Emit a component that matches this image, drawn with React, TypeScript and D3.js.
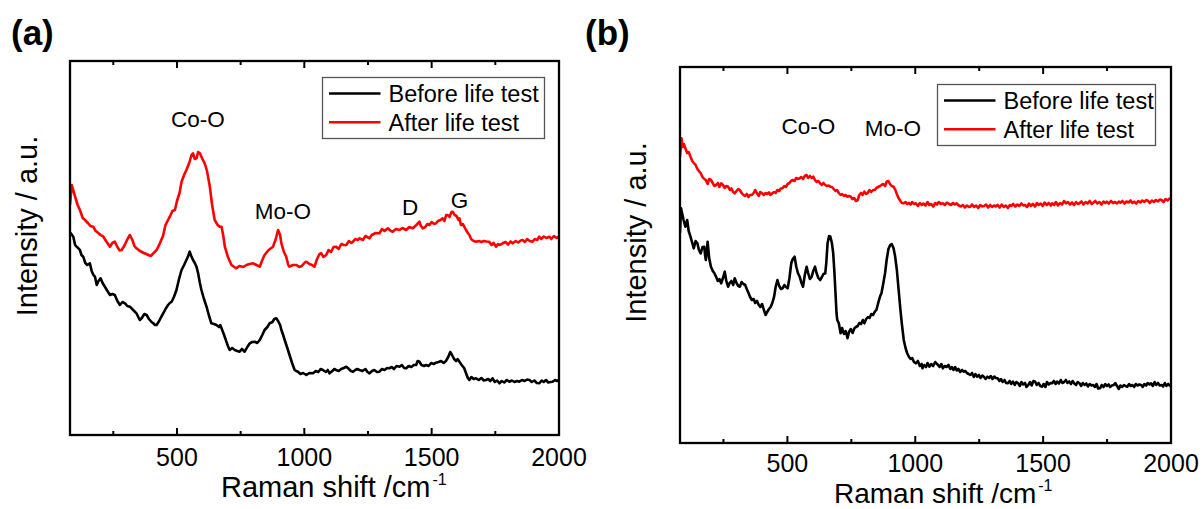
import React from "react";
import * as d3 from "d3";

type Pt = [number, number];

// Raman shift (cm^-1) vs intensity (a.u.)
const majorTicks = [500, 1000, 1500, 2000];
const minorTicks = [250, 750, 1250, 1750];
const seriesNames = ["Before life test", "After life test"];
const seriesColors = ["#000000", "#ff0000"];

// Panel (a)
const afterA: Pt[] = [[80,2300],[87,2500],[100,2383],[110,2300],[119,2250],[130,2170],[139,2150],[150,2120],[160,2090],[171,2083],[181,2040],[191,2020],[200,2000],[211,1983],[224,1930],[237,1883],[246,1920],[256,1933],[266,1880],[275,1845],[283,1850],[295,1900],[306,1960],[315,2000],[325,1950],[333,1890],[341,1867],[355,1840],[370,1820],[380,1810],[387,1800],[398,1790],[407,1817],[420,1850],[433,1917],[445,1990],[455,2100],[465,2150],[472,2183],[482,2240],[492,2250],[500,2340],[510,2420],[518,2533],[528,2600],[537,2650],[548,2720],[557,2800],[563,2817],[570,2760],[577,2767],[583,2830],[590,2817],[600,2760],[609,2717],[618,2640],[629,2483],[638,2300],[648,2150],[660,2100],[668,2083],[675,2083],[682,1990],[688,1883],[700,1780],[714,1700],[725,1680],[733,1667],[745,1690],[760,1680],[773,1700],[785,1710],[799,1717],[812,1700],[825,1683],[835,1750],[844,1800],[860,1850],[877,1883],[888,1960],[897,2050],[905,2000],[910,1917],[920,1830],[929,1783],[937,1700],[942,1683],[955,1700],[969,1700],[980,1680],[990,1690],[1000,1720],[1008,1733],[1020,1710],[1030,1700],[1040,1683],[1050,1760],[1060,1810],[1067,1817],[1075,1780],[1086,1800],[1095,1850],[1105,1830],[1115,1880],[1125,1883],[1135,1860],[1145,1910],[1155,1900],[1165,1900],[1175,1940],[1185,1920],[1191,1933],[1200,1960],[1210,1950],[1217,1967],[1230,1950],[1240,1990],[1256,1967],[1265,2000],[1280,2020],[1295,2017],[1305,2060],[1315,2040],[1328,2067],[1340,2040],[1347,2033],[1360,2060],[1374,2050],[1385,2070],[1400,2050],[1412,2080],[1426,2067],[1440,2100],[1452,2133],[1458,2090],[1465,2067],[1475,2080],[1483,2110],[1491,2100],[1500,2130],[1510,2110],[1517,2117],[1525,2140],[1535,2150],[1543,2167],[1550,2140],[1557,2200],[1563,2200],[1570,2180],[1578,2230],[1583,2233],[1590,2200],[1598,2190],[1605,2150],[1609,2167],[1615,2100],[1622,2110],[1628,2083],[1635,2050],[1642,2020],[1648,2000],[1655,1960],[1665,1940],[1674,1933],[1685,1940],[1695,1930],[1705,1940],[1715,1935],[1726,1933],[1735,1900],[1743,1920],[1753,1883],[1760,1910],[1768,1900],[1779,1917],[1790,1930],[1800,1905],[1810,1935],[1818,1917],[1830,1940],[1840,1925],[1850,1945],[1857,1950],[1866,1930],[1875,1960],[1885,1940],[1896,1933],[1905,1960],[1915,1950],[1922,1983],[1930,1960],[1940,1985],[1950,1970],[1962,1983],[1970,1960],[1980,1990],[1990,1970],[2000,1983]];

const beforeA: Pt[] = [[80,2000],[83,2017],[88,2000],[93,1983],[100,1900],[106,1883],[112,1870],[119,1850],[125,1800],[132,1783],[140,1720],[148,1700],[158,1717],[165,1640],[172,1600],[178,1583],[185,1500],[192,1540],[200,1567],[208,1520],[217,1483],[227,1440],[237,1400],[247,1410],[256,1400],[266,1340],[276,1300],[286,1330],[296,1317],[305,1290],[315,1283],[328,1250],[341,1217],[348,1180],[354,1150],[362,1170],[372,1210],[381,1200],[390,1160],[400,1130],[407,1117],[414,1100],[420,1100],[430,1140],[438,1180],[446,1217],[455,1260],[465,1300],[472,1320],[479,1333],[488,1380],[498,1450],[508,1560],[518,1650],[528,1700],[537,1750],[544,1790],[550,1833],[556,1790],[563,1750],[570,1720],[577,1680],[583,1617],[590,1520],[596,1450],[606,1360],[616,1283],[625,1200],[635,1117],[645,1110],[655,1100],[665,1080],[670,1100],[675,1067],[685,1000],[694,933],[700,890],[707,850],[717,870],[727,850],[737,840],[746,833],[755,860],[766,833],[776,880],[786,917],[795,930],[805,933],[815,920],[825,950],[835,1000],[844,1050],[855,1080],[864,1117],[875,1130],[882,1160],[890,1167],[897,1140],[905,1100],[910,1050],[917,1000],[923,950],[932,880],[942,800],[952,720],[962,650],[968,640],[975,633],[985,610],[995,620],[1008,600],[1020,620],[1034,617],[1045,640],[1055,630],[1064,660],[1073,650],[1085,630],[1092,650],[1099,617],[1110,640],[1118,660],[1125,650],[1135,640],[1145,660],[1155,670],[1165,683],[1175,660],[1183,640],[1191,633],[1200,650],[1208,660],[1217,650],[1228,640],[1240,660],[1248,630],[1256,617],[1266,640],[1275,650],[1285,630],[1295,633],[1305,660],[1315,650],[1325,670],[1334,667],[1343,680],[1352,660],[1362,690],[1374,683],[1383,700],[1392,670],[1400,667],[1410,690],[1420,680],[1430,700],[1439,700],[1445,740],[1452,733],[1460,700],[1470,690],[1478,700],[1488,690],[1498,720],[1508,710],[1517,723],[1527,730],[1537,740],[1547,720],[1557,743],[1565,780],[1573,830],[1580,800],[1588,760],[1596,740],[1602,760],[1609,733],[1618,700],[1628,667],[1636,610],[1642,570],[1648,550],[1656,580],[1665,560],[1674,567],[1685,550],[1695,570],[1705,545],[1713,550],[1722,560],[1730,540],[1739,567],[1748,530],[1757,545],[1766,517],[1775,540],[1785,525],[1795,550],[1805,533],[1815,545],[1825,530],[1835,540],[1844,533],[1855,550],[1865,540],[1875,555],[1884,550],[1893,530],[1903,545],[1913,520],[1923,517],[1932,545],[1940,530],[1949,550],[1958,525],[1966,530],[1975,533],[1985,550],[1992,540],[2000,550]];

// Panel (b)
const afterB: Pt[] = [[80,2863],[86,3047],[90,2960],[95,2990],[101,2947],[108,2900],[114,2910],[121,2863],[128,2820],[134,2800],[141,2780],[148,2740],[154,2720],[161,2697],[168,2660],[175,2640],[181,2630],[188,2590],[194,2640],[201,2630],[208,2600],[214,2570],[221,2580],[228,2600],[234,2560],[241,2597],[248,2580],[255,2550],[261,2570],[268,2563],[275,2530],[281,2545],[288,2510],[294,2497],[301,2520],[308,2540],[314,2530],[321,2500],[328,2480],[334,2470],[341,2490],[348,2460],[354,2480],[361,2480],[368,2500],[374,2530],[381,2497],[388,2470],[394,2510],[401,2497],[408,2480],[414,2500],[421,2490],[428,2505],[434,2480],[441,2497],[448,2510],[454,2500],[461,2530],[468,2520],[474,2545],[481,2547],[488,2570],[494,2560],[501,2590],[508,2600],[514,2620],[521,2630],[528,2620],[534,2650],[541,2640],[548,2647],[554,2660],[561,2640],[568,2670],[575,2680],[581,2650],[588,2670],[595,2650],[601,2663],[608,2630],[614,2610],[621,2620],[628,2597],[634,2580],[641,2600],[648,2580],[654,2570],[661,2575],[668,2563],[674,2560],[681,2540],[688,2520],[694,2530],[701,2500],[708,2480],[714,2490],[721,2470],[728,2480],[734,2463],[741,2470],[748,2463],[754,2440],[761,2450],[768,2420],[775,2430],[781,2480],[788,2500],[794,2480],[801,2513],[808,2490],[814,2500],[821,2530],[828,2510],[835,2530],[842,2530],[848,2550],[855,2560],[862,2570],[868,2580],[875,2590],[882,2570],[888,2613],[895,2620],[901,2590],[908,2570],[915,2563],[922,2530],[928,2490],[935,2447],[942,2420],[948,2400],[955,2397],[962,2410],[968,2390],[975,2400],[982,2385],[988,2410],[995,2390],[1002,2397],[1010,2370],[1018,2400],[1025,2380],[1032,2395],[1040,2375],[1048,2410],[1055,2380],[1062,2390],[1070,2365],[1078,2400],[1085,2385],[1092,2410],[1100,2390],[1108,2397],[1116,2380],[1124,2405],[1132,2390],[1140,2380],[1148,2400],[1155,2385],[1162,2397],[1170,2375],[1178,2365],[1186,2380],[1194,2355],[1202,2375],[1210,2360],[1215,2363],[1222,2385],[1230,2360],[1238,2375],[1246,2350],[1254,2380],[1262,2365],[1269,2370],[1277,2385],[1285,2355],[1293,2380],[1300,2360],[1308,2375],[1315,2365],[1322,2380],[1330,2355],[1338,2385],[1346,2360],[1354,2375],[1362,2350],[1370,2380],[1375,2370],[1383,2390],[1391,2365],[1399,2385],[1407,2370],[1415,2395],[1422,2375],[1429,2380],[1437,2360],[1445,2395],[1452,2370],[1460,2390],[1468,2365],[1476,2400],[1482,2380],[1490,2395],[1498,2370],[1506,2405],[1514,2380],[1522,2400],[1530,2375],[1535,2397],[1543,2380],[1550,2410],[1558,2375],[1566,2400],[1574,2385],[1582,2420],[1589,2397],[1597,2410],[1605,2385],[1613,2405],[1621,2380],[1629,2410],[1636,2390],[1642,2397],[1650,2415],[1658,2385],[1666,2410],[1674,2395],[1682,2420],[1690,2390],[1696,2403],[1704,2420],[1712,2395],[1720,2410],[1728,2385],[1736,2415],[1743,2400],[1749,2413],[1757,2395],[1765,2420],[1773,2400],[1781,2410],[1789,2395],[1796,2415],[1802,2403],[1810,2420],[1818,2395],[1826,2415],[1834,2405],[1842,2425],[1849,2400],[1856,2413],[1864,2395],[1872,2420],[1880,2405],[1888,2425],[1896,2410],[1903,2430],[1909,2423],[1917,2400],[1925,2425],[1933,2410],[1941,2430],[1949,2415],[1956,2435],[1963,2430],[1971,2410],[1979,2440],[1987,2425],[1994,2445],[2000,2437]];

const beforeB: Pt[] = [[80,2100],[84,2347],[88,2300],[94,2230],[101,2163],[108,2230],[114,2120],[121,2063],[128,2000],[134,1947],[141,2020],[148,1997],[154,1930],[161,1897],[168,1960],[175,1963],[178,1880],[181,1830],[185,1920],[188,2013],[194,1850],[201,1763],[208,1720],[214,1700],[221,1663],[228,1620],[234,1640],[241,1597],[248,1650],[255,1713],[261,1620],[268,1563],[274,1600],[281,1620],[288,1580],[294,1647],[301,1600],[308,1570],[314,1563],[321,1610],[328,1590],[335,1580],[341,1540],[348,1500],[354,1460],[361,1430],[368,1440],[374,1400],[381,1420],[388,1380],[394,1360],[401,1390],[408,1330],[415,1280],[421,1310],[428,1340],[435,1363],[441,1400],[448,1463],[454,1560],[461,1630],[468,1570],[475,1540],[481,1547],[488,1580],[494,1560],[501,1547],[508,1650],[515,1797],[521,1840],[528,1863],[535,1760],[541,1700],[548,1663],[555,1600],[561,1563],[568,1680],[575,1763],[581,1700],[588,1640],[595,1663],[601,1720],[608,1763],[614,1700],[621,1650],[628,1630],[635,1660],[641,1690],[648,1697],[652,1800],[657,1997],[663,2070],[668,2063],[674,2000],[679,1900],[684,1700],[688,1500],[692,1300],[695,1230],[701,1197],[708,1097],[714,1150],[721,1090],[728,1120],[735,1047],[741,1110],[748,1140],[755,1100],[762,1147],[768,1160],[775,1170],[781,1200],[788,1190],[795,1230],[801,1197],[808,1240],[815,1260],[821,1250],[828,1290],[835,1280],[842,1313],[848,1330],[855,1400],[862,1463],[868,1500],[875,1597],[882,1700],[888,1830],[895,1940],[902,1980],[908,1990],[915,1947],[921,1870],[928,1730],[935,1530],[942,1330],[948,1180],[955,1030],[962,950],[968,900],[975,863],[982,840],[988,850],[995,810],[1002,797],[1010,820],[1018,770],[1025,790],[1028,747],[1035,780],[1042,760],[1048,800],[1055,763],[1062,790],[1070,770],[1078,810],[1085,790],[1089,780],[1095,760],[1102,790],[1108,747],[1115,770],[1122,760],[1130,780],[1137,740],[1143,760],[1149,730],[1156,760],[1162,725],[1169,740],[1176,710],[1183,730],[1189,713],[1196,720],[1202,700],[1209,690],[1215,680],[1222,700],[1229,660],[1235,690],[1242,663],[1249,680],[1255,650],[1262,675],[1269,660],[1275,640],[1282,663],[1289,650],[1295,670],[1302,640],[1309,665],[1315,650],[1322,647],[1329,620],[1335,640],[1342,610],[1349,630],[1355,600],[1362,597],[1369,620],[1375,590],[1382,615],[1389,580],[1395,610],[1402,597],[1409,570],[1415,610],[1422,585],[1429,600],[1435,560],[1442,580],[1449,610],[1455,575],[1462,620],[1469,613],[1475,580],[1482,600],[1489,570],[1496,563],[1502,590],[1509,560],[1515,610],[1522,585],[1529,600],[1535,597],[1542,620],[1549,590],[1555,615],[1562,595],[1569,630],[1575,600],[1582,610],[1589,630],[1595,600],[1602,615],[1609,590],[1615,620],[1622,595],[1629,580],[1635,610],[1642,597],[1649,570],[1655,600],[1662,580],[1669,595],[1675,565],[1682,590],[1689,575],[1696,580],[1702,560],[1709,590],[1715,545],[1723,547],[1729,580],[1736,560],[1743,590],[1749,570],[1756,585],[1762,560],[1769,575],[1776,580],[1782,600],[1789,570],[1796,540],[1802,575],[1809,560],[1816,580],[1822,570],[1829,563],[1836,590],[1842,570],[1849,580],[1856,560],[1862,590],[1869,575],[1876,585],[1883,580],[1889,560],[1896,590],[1903,575],[1909,600],[1916,585],[1922,597],[1929,570],[1936,610],[1942,580],[1949,600],[1956,575],[1963,580],[1969,565],[1976,600],[1982,570],[1989,590],[1995,575],[2000,580]];

// Peak annotations (data coordinates)
const annotationsA = [
  { text: "Co-O", x: 582, y: 3083 },
  { text: "Mo-O", x: 916, y: 2160 },
  { text: "D", x: 1415, y: 2200 },
  { text: "G", x: 1609, y: 2275 },
];
const annotationsB = [
  { text: "Co-O", x: 582, y: 3087 },
  { text: "Mo-O", x: 912, y: 3070 },
];

const FONT = "Arial, 'Liberation Sans', Helvetica, sans-serif";

type PanelCfg = {
  tag: string;
  tagX: number;
  frame: { l: number; t: number; r: number; b: number };
  yMax: number;
  before: Pt[];
  after: Pt[];
  notes: { text: string; x: number; y: number }[];
  legend: { x: number; y: number; w: number; h: number };
  yTitle: { x: number; y: number };
  xTitleX: number;
  xTitleDy: number;
  xTitleSize: number;
  tickDy: number;
};

const panels: PanelCfg[] = [
  {
    tag: "(a)", tagX: 11,
    frame: { l: 70, t: 61, r: 559, b: 435 },
    yMax: 3740, before: beforeA, after: afterA, notes: annotationsA,
    legend: { x: 322.5, y: 77.5, w: 222, h: 61 },
    yTitle: { x: 37, y: 226 },
    xTitleX: 221, xTitleDy: 62, xTitleSize: 29, tickDy: 31,
  },
  {
    tag: "(b)", tagX: 585,
    frame: { l: 680, t: 67, r: 1171, b: 443 },
    yMax: 3760, before: beforeB, after: afterB, notes: annotationsB,
    legend: { x: 937.5, y: 84.5, w: 218, h: 61 },
    yTitle: { x: 646, y: 232.5 },
    xTitleX: 834, xTitleDy: 60, xTitleSize: 28, tickDy: 29,
  },
];

function Panel({ cfg, idx }: { cfg: PanelCfg; idx: number }) {
  const { frame } = cfg;
  const x = d3.scaleLinear().domain([80, 2000]).range([frame.l, frame.r]);
  const y = d3.scaleLinear().domain([0, cfg.yMax]).range([frame.b, frame.t]);
  const line = d3
    .line<Pt>()
    .x((d) => x(d[0]))
    .y((d) => y(d[1]));
  const clipId = `clip-${idx}`;
  const series = [cfg.before, cfg.after];
  return (
    <g>
      <defs>
        <clipPath id={clipId}>
          <rect x={frame.l} y={frame.t} width={frame.r - frame.l} height={frame.b - frame.t} />
        </clipPath>
      </defs>
      <text x={cfg.tagX} y={44.5} fontFamily={FONT} fontWeight="bold" fontSize={35}>
        {cfg.tag}
      </text>
      <g clipPath={`url(#${clipId})`}>
        {series.map((s, i) => (
          <path
            key={i}
            d={line(s) || ""}
            fill="none"
            stroke={seriesColors[i]}
            strokeWidth={2.6}
            strokeLinejoin="round"
          />
        ))}
      </g>
      {majorTicks.map((t) => (
        <g key={`M${t}`}>
          <line x1={x(t)} x2={x(t)} y1={frame.b} y2={frame.b - 7} stroke="#000" strokeWidth={2} />
          <line x1={x(t)} x2={x(t)} y1={frame.t} y2={frame.t + 7} stroke="#000" strokeWidth={2} />
          <text x={x(t)} y={frame.b + cfg.tickDy} textAnchor="middle" fontFamily={FONT} fontSize={25}>
            {t}
          </text>
        </g>
      ))}
      {minorTicks.map((t) => (
        <g key={`m${t}`}>
          <line x1={x(t)} x2={x(t)} y1={frame.b} y2={frame.b - 4} stroke="#000" strokeWidth={2} />
          <line x1={x(t)} x2={x(t)} y1={frame.t} y2={frame.t + 4} stroke="#000" strokeWidth={2} />
        </g>
      ))}
      <rect
        x={frame.l}
        y={frame.t}
        width={frame.r - frame.l}
        height={frame.b - frame.t}
        fill="none"
        stroke="#000"
        strokeWidth={2.3}
      />
      {cfg.notes.map((n) => (
        <text key={n.text} x={x(n.x)} y={y(n.y)} textAnchor="middle" fontFamily={FONT} fontSize={22.5}>
          {n.text}
        </text>
      ))}
      <rect
        x={cfg.legend.x}
        y={cfg.legend.y}
        width={cfg.legend.w}
        height={cfg.legend.h}
        fill="#fff"
        stroke="#555"
        strokeWidth={1.3}
      />
      {seriesNames.map((name, i) => {
        const ly = cfg.legend.y + 16 + i * 28.8;
        return (
          <g key={name}>
            <line
              x1={cfg.legend.x + 6.5}
              x2={cfg.legend.x + 58}
              y1={ly}
              y2={ly}
              stroke={seriesColors[i]}
              strokeWidth={2.6}
            />
            <text x={cfg.legend.x + 66} y={ly + 8.5} fontFamily={FONT} fontSize={23.5}>
              {name}
            </text>
          </g>
        );
      })}
      <text
        transform={`translate(${cfg.yTitle.x},${cfg.yTitle.y}) rotate(-90)`}
        textAnchor="middle"
        fontFamily={FONT}
        fontSize={29}
      >
        Intensity / a.u.
      </text>
      <text x={cfg.xTitleX} y={frame.b + cfg.xTitleDy} fontFamily={FONT} fontSize={cfg.xTitleSize}>
        Raman shift /cm
        <tspan dx={2} dy={-12} fontSize={16}>
          -1
        </tspan>
      </text>
    </g>
  );
}

export default function App() {
  return (
    <svg
      width={1203}
      height={509}
      viewBox="0 0 1203 509"
      style={{ position: "absolute", left: 0, top: 0, background: "#fff" }}
    >
      <rect x={0} y={0} width={1203} height={509} fill="#fff" />
      {panels.map((p, i) => (
        <Panel key={p.tag} cfg={p} idx={i} />
      ))}
    </svg>
  );
}
